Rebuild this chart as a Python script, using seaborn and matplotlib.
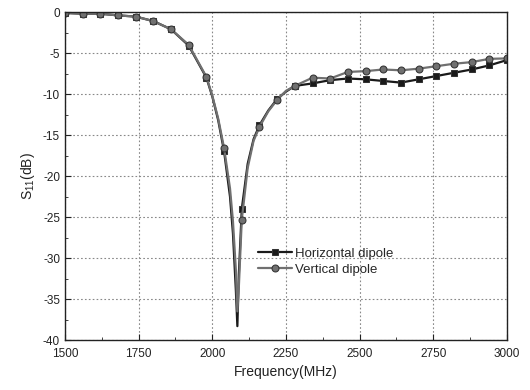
import numpy as np
import pandas as pd
import seaborn as sns
import matplotlib
matplotlib.use("Agg")
import matplotlib.pyplot as plt
from matplotlib.ticker import MultipleLocator

freq = [1500, 1560, 1620, 1680, 1740, 1800, 1860, 1920, 1980, 2000, 2020, 2040,
        2060, 2070, 2080, 2085, 2090, 2100, 2120, 2140, 2160, 2190, 2220, 2250,
        2280, 2340, 2400, 2460, 2520, 2580, 2640, 2700, 2760, 2820, 2880, 2940, 3000]

s11_horizontal = [-0.1, -0.2, -0.2, -0.4, -0.55, -1.1, -2.1, -4.1, -8.0, -10.3, -13.2, -17.0,
                  -22.5, -27.0, -34.0, -38.3, -32.0, -24.0, -18.5, -15.5, -13.8, -12.0, -10.6, -9.7,
                  -9.0, -8.7, -8.3, -8.1, -8.2, -8.4, -8.6, -8.2, -7.8, -7.4, -7.0, -6.5, -5.85]

s11_vertical = [-0.1, -0.2, -0.2, -0.4, -0.55, -1.1, -2.1, -4.0, -7.9, -10.2, -13.0, -16.6,
                -21.5, -25.5, -31.5, -36.5, -33.5, -25.3, -19.0, -15.7, -14.0, -12.1, -10.7, -9.6,
                -9.0, -8.0, -8.1, -7.3, -7.2, -7.0, -7.1, -6.9, -6.6, -6.3, -6.1, -5.7, -5.65]

labels = ["Horizontal dipole", "Vertical dipole"]

df = pd.concat([
    pd.DataFrame({"freq": freq, "s11": s11_horizontal, "ant": labels[0]}),
    pd.DataFrame({"freq": freq, "s11": s11_vertical, "ant": labels[1]}),
])

# markers every 60 MHz
mark_idx = [i for i, f in enumerate(freq) if (f - 1500) % 60 == 0]

sns.set_style("ticks")
plt.rcParams["font.family"] = ["Liberation Sans", "DejaVu Sans"]
plt.rcParams["axes.unicode_minus"] = False

fig = plt.figure(figsize=(5.3, 3.9), dpi=100)
ax = fig.add_axes([0.1226, 0.128, 0.834, 0.841])

sns.lineplot(data=df, x="freq", y="s11", hue="ant", style="ant",
             palette=["#1a1a1a", "#707070"], markers=["s", "o"], dashes=False,
             markevery=mark_idx, markersize=5, linewidth=1.6, sort=False,
             markeredgecolor="#333333", ax=ax)

ax.set_xlim(1500, 3000)
ax.set_ylim(-40, 0)
ax.xaxis.set_major_locator(MultipleLocator(250))
ax.xaxis.set_minor_locator(MultipleLocator(125))
ax.yaxis.set_major_locator(MultipleLocator(5))
ax.yaxis.set_minor_locator(MultipleLocator(2.5))
ax.tick_params(which="both", direction="in", top=False, right=False, labelsize=8.5, colors="#222222")
ax.tick_params(which="major", length=4)
ax.tick_params(which="minor", length=2)
ax.tick_params(axis="x", which="major", pad=6)
ax.grid(True, which="major", linestyle=(0, (1.5, 2)), color="#888888", linewidth=0.8)
for s in ax.spines.values():
    s.set_visible(True)
    s.set_color("#222222")
    s.set_linewidth(1.0)

ax.set_xlabel("Frequency(MHz)", fontsize=10, color="#222222", labelpad=3)
ax.set_ylabel(r"$\mathregular{S_{11}}$(dB)", fontsize=10, color="#222222")

ax.legend(title=None, frameon=False, fontsize=9.5, loc="lower left",
          bbox_to_anchor=(0.41, 0.16), handlelength=2.6, handletextpad=0.2,
          labelspacing=0.3)

fig.savefig("out.png", dpi=100)
